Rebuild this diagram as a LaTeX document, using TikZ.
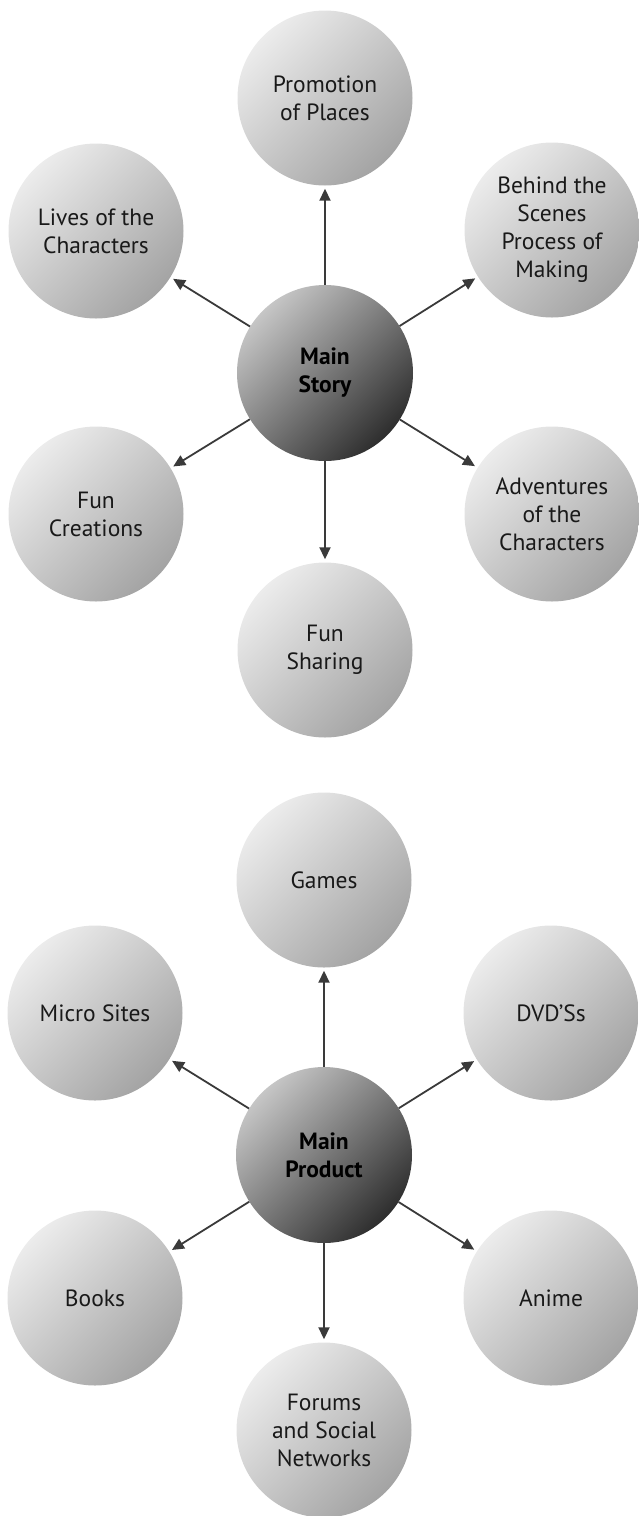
\documentclass[tikz,border=0pt]{standalone}
\usepackage{fontspec}
\setmainfont{PT Sans}
\usetikzlibrary{arrows.meta}
\definecolor{arrowc}{HTML}{3A3A3A}
\tikzset{
  bubble/.style={circle, minimum size=175pt, inner sep=0pt, align=center,
    font=\fontsize{23.5}{28}\selectfont, text=black!90,
    top color=gray!15, bottom color=gray!72, shading angle=45},
  hub/.style={circle, minimum size=176pt, inner sep=0pt, align=center,
    font=\fontsize{23.5}{28}\selectfont\bfseries, text=black,
    top color=gray!45, bottom color=black!82, shading angle=45},
  link/.style={draw=arrowc, line width=1.8pt, shorten >=3pt,
    -{Triangle[length=12pt,width=11pt]}}
}
\begin{document}
\begin{tikzpicture}[x=1pt,y=-1pt]
\useasboundingbox (0,0) rectangle (638,1516);
% top diagram
\node[hub] (ms) at (325,373) {Main\\Story};
\node[bubble] (t1) at (325,98) {Promotion\\of Places};
\node[bubble] (t2) at (96,231) {Lives of the\\Characters};
\node[bubble] (t3) at (552,230) {Behind the\\Scenes\\Process of\\Making};
\node[bubble] (t4) at (96,514) {Fun\\Creations};
\node[bubble] (t5) at (552,514) {Adventures\\of the\\Characters};
\node[bubble] (t6) at (325,650) {Fun\\Sharing};
\foreach \n in {t1,t2,t3,t4,t5,t6} \draw[link] (ms) -- (\n);
% bottom diagram
\node[hub] (mp) at (324,1155) {Main\\Product};
\node[bubble] (b1) at (324,880) {Games};
\node[bubble] (b2) at (95,1013) {Micro Sites};
\node[bubble] (b3) at (551,1013) {DVD’Ss};
\node[bubble] (b4) at (95,1298) {Books};
\node[bubble] (b5) at (551,1298) {Anime};
\node[bubble] (b6) at (324,1430) {Forums\\and Social\\Networks};
\foreach \n in {b1,b2,b3,b4,b5,b6} \draw[link] (mp) -- (\n);
\end{tikzpicture}
\end{document}
